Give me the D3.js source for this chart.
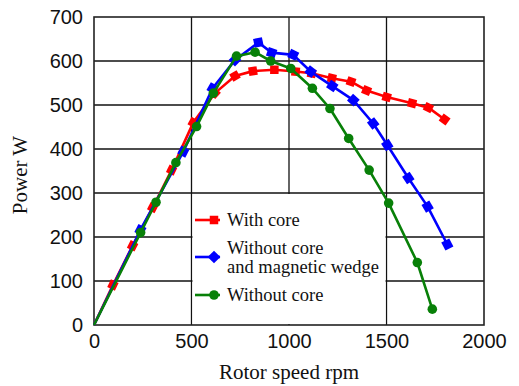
<!DOCTYPE html>
<html><head><meta charset="utf-8">
<script src="https://cdn.jsdelivr.net/npm/d3@7"></script>
<style>body{margin:0;background:#fff}svg{display:block}</style>
</head><body><svg id="c" width="519" height="386"></svg>
<script>
const xTicks = [0, 500, 1000, 1500, 2000];
const yTicks = [0, 100, 200, 300, 400, 500, 600, 700];

const withCoreX = [0, 97, 198, 301, 398, 509, 620, 723, 815, 925, 1034, 1116, 1220, 1318, 1398, 1501, 1631, 1715, 1798];
const withCoreY = [0, 91, 180, 267, 352, 460, 527, 566, 577, 580, 576, 572, 561, 553, 533, 518, 504, 494, 467];

const noCoreWedgeX = [0, 238, 458, 608, 723, 843, 911, 1022, 1111, 1222, 1330, 1432, 1504, 1612, 1711, 1812];
const noCoreWedgeY = [0, 216, 394, 538, 602, 642, 619, 614, 576, 543, 511, 458, 409, 334, 269, 183];

const noCoreX = [0, 239, 318, 420, 526, 612, 731, 826, 906, 1009, 1120, 1210, 1306, 1411, 1511, 1658, 1735];
const noCoreY = [0, 210, 279, 369, 451, 527, 611, 620, 600, 583, 538, 492, 424, 352, 277, 142, 36];

const seriesNames = ["With core", "Without core|and magnetic wedge", "Without core"];
const seriesColors = ["#ff0000", "#0000ff", "#088008"];
const seriesMarkers = ["square", "diamond", "circle"];

const svg = d3.select("#c");
const m = {l: 94, r: 484, t: 17, b: 325};
const x = d3.scaleLinear().domain([0, 2000]).range([m.l, m.r]);
const y = d3.scaleLinear().domain([0, 700]).range([m.b, m.t]);

const serif = "'Liberation Serif','Times New Roman',serif";
const sans = "'Liberation Sans',Arial,sans-serif";

// grid
const g = svg.append("g");
g.selectAll(".vg").data(xTicks.slice(1, -1)).enter().append("line")
  .attr("x1", d => x(d)).attr("x2", d => x(d)).attr("y1", m.t).attr("y2", m.b)
  .attr("stroke", "#111").attr("stroke-width", 1.3);
g.selectAll(".hg").data(yTicks.slice(1, -1)).enter().append("line")
  .attr("x1", m.l).attr("x2", m.r).attr("y1", d => y(d)).attr("y2", d => y(d))
  .attr("stroke", "#111").attr("stroke-width", 1.3);

// legend box blanking
svg.append("rect").attr("x", x(500) + 1).attr("y", y(300) + 1)
  .attr("width", x(1500) - x(500) - 2).attr("height", y(0) - y(300) - 2).attr("fill", "#fff");

// border
svg.append("rect").attr("x", m.l).attr("y", m.t).attr("width", m.r - m.l).attr("height", m.b - m.t)
  .attr("fill", "none").attr("stroke", "#222").attr("stroke-width", 1.6);

// axes labels
const xAxis = d3.axisBottom(x).tickValues(xTicks).tickSize(0).tickPadding(9).tickFormat(d3.format("d"));
const xa = svg.append("g").attr("transform", `translate(0,${m.b})`).call(xAxis);
xa.select(".domain").remove();
xa.selectAll("text").attr("font-family", sans).attr("font-size", 20).attr("fill", "#111");

const yAxis = d3.axisLeft(y).tickValues(yTicks).tickSize(0).tickPadding(11).tickFormat(d3.format("d"));
const ya = svg.append("g").attr("transform", `translate(${m.l},0)`).call(yAxis);
ya.select(".domain").remove();
ya.selectAll("text").attr("font-family", sans).attr("font-size", 20).attr("fill", "#111");

svg.append("text").attr("x", (m.l + m.r) / 2).attr("y", 379).attr("text-anchor", "middle")
  .attr("font-family", serif).attr("font-size", 21).attr("fill", "#111").text("Rotor speed rpm");
svg.append("text").attr("transform", `translate(27,${(m.t + m.b) / 2 + 4}) rotate(-90)`).attr("text-anchor", "middle")
  .attr("font-family", serif).attr("font-size", 21).attr("fill", "#111").text("Power W");

// series
const series = [
  {xs: withCoreX, ys: withCoreY},
  {xs: noCoreWedgeX, ys: noCoreWedgeY},
  {xs: noCoreX, ys: noCoreY}
];
const line = d3.line().x(d => x(d[0])).y(d => y(d[1]));
function marker(sel, type, color, cx, cy, ang) {
  if (type === "circle") {
    sel.append("circle").attr("cx", cx).attr("cy", cy).attr("r", 4.8).attr("fill", color);
  } else {
    const s = type === "square" ? 8.5 : 9;
    sel.append("rect").attr("x", -s / 2).attr("y", -s / 2).attr("width", s).attr("height", s)
      .attr("fill", color).attr("transform", `translate(${cx},${cy}) rotate(${ang})`);
  }
}
series.forEach((s, i) => {
  const pts = s.xs.map((v, k) => [v, s.ys[k]]);
  svg.append("path").datum(pts).attr("d", line).attr("fill", "none")
    .attr("stroke", seriesColors[i]).attr("stroke-width", 2.6).attr("stroke-linejoin", "round");
  const mg = svg.append("g");
  pts.forEach((p, k) => {
    if (k === 0) return;
    const a = pts[k - 1], b = pts[Math.min(k + 1, pts.length - 1)];
    const ang = Math.atan2(y(b[1]) - y(a[1]), x(b[0]) - x(a[0])) * 180 / Math.PI;
    marker(mg, seriesMarkers[i], seriesColors[i], x(p[0]), y(p[1]), ang);
  });
});

// legend
const legY = [220, 257, 295];
seriesNames.forEach((name, i) => {
  const lg = svg.append("g");
  lg.append("line").attr("x1", 195).attr("x2", 220).attr("y1", legY[i]).attr("y2", legY[i])
    .attr("stroke", seriesColors[i]).attr("stroke-width", 2.6);
  marker(lg, seriesMarkers[i], seriesColors[i], 214, legY[i], seriesMarkers[i] === "diamond" ? 45 : 0);
  const lines = name.split("|");
  const t = lg.append("text").attr("font-family", serif).attr("font-size", 18.5).attr("fill", "#111");
  if (lines.length === 1) {
    t.append("tspan").attr("x", 227).attr("y", legY[i] + 6).text(lines[0]);
  } else {
    t.append("tspan").attr("x", 227).attr("y", legY[i] - 3).text(lines[0]);
    t.append("tspan").attr("x", 227).attr("y", legY[i] + 16).text(lines[1]);
  }
});
</script></body></html>
